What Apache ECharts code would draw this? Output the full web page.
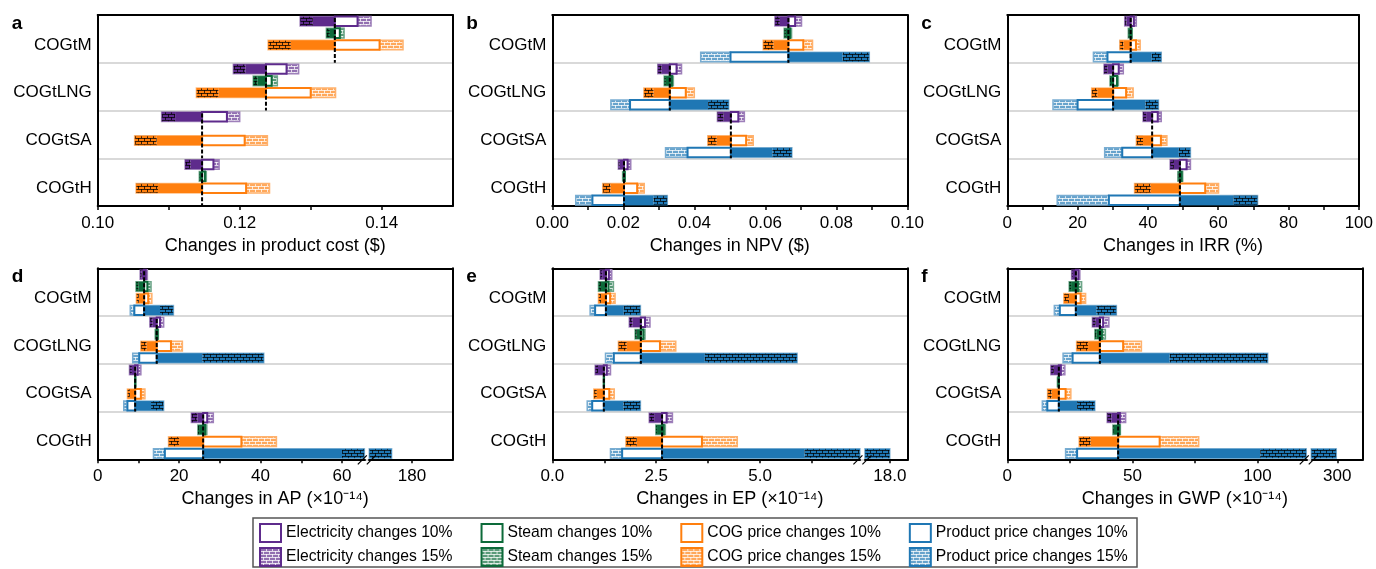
<!DOCTYPE html>
<html>
<head>
<meta charset="utf-8">
<script src="https://cdn.jsdelivr.net/npm/echarts@6.0.0/dist/echarts.min.js"></script>
<style>
  html, body { margin: 0; padding: 0; background: #fff; }
  #chart { width: 1376px; height: 569px; }
</style>
</head>
<body>
<div id="chart"></div>
<script>
// ---- data: each bar is [15% filled end, 10% filled end, 10% open end, 15% open end]
const categories = ['COGtM', 'COGtLNG', 'COGtSA', 'COGtH'];
const factors = ['Electricity', 'Steam', 'COG price', 'Product price'];

// a: product cost ($)
const costBase = [0.1334, 0.1237, 0.1147, 0.1147];
const costElec = [[0.1285, 0.1303, 0.1366, 0.1385], [0.1191, 0.1208, 0.1266, 0.1283], [0.1090, 0.1109, 0.1182, 0.1200], [0.1123, 0.1131, 0.1163, 0.1171]];
const costSteam = [[0.1322, 0.1327, 0.1341, 0.1347], [0.1219, 0.1225, 0.1245, 0.1253], null, [0.1143, 0.1144, 0.1151, 0.1153]];
const costCog = [[0.1240, 0.1272, 0.1397, 0.1430], [0.1139, 0.1170, 0.1300, 0.1335], [0.1052, 0.1083, 0.1207, 0.1239], [0.1054, 0.1085, 0.1209, 0.1242]];
const costProduct = null;
const costTicks = [0.10, 0.11, 0.12, 0.13, 0.14];
const costLabels = [0.10, 0.12, 0.14];

// b: NPV ($)
const npvBase = [0.0665, 0.0331, 0.0503, 0.0202];
const npvElec = [[0.0627, 0.0641, 0.0684, 0.0702], [0.0297, 0.0308, 0.0350, 0.0364], [0.0465, 0.0482, 0.0524, 0.0541], [0.0186, 0.0190, 0.0212, 0.0221]];
const npvSteam = [[0.0653, 0.0658, 0.0670, 0.0674], [0.0315, 0.0320, 0.0337, 0.0341], null, [0.0198, 0.0199, 0.0204, 0.0205]];
const npvCog = [[0.0594, 0.0623, 0.0707, 0.0733], [0.0258, 0.0285, 0.0376, 0.0400], [0.0438, 0.0463, 0.0546, 0.0566], [0.0142, 0.0164, 0.0239, 0.0259]];
const npvProduct = [[0.0893, 0.0818, 0.0502, 0.0418], [0.0497, 0.0439, 0.0219, 0.0165], [0.0675, 0.0620, 0.0381, 0.0319], [0.0324, 0.0285, 0.0113, 0.0066]];
const npvTicks = [0, 0.01, 0.02, 0.03, 0.04, 0.05, 0.06, 0.07, 0.08, 0.09, 0.10];
const npvLabels = [0, 0.02, 0.04, 0.06, 0.08, 0.10];

// c: IRR (%)
const irrBase = [35.1, 30.1, 41.2, 49.1];
const irrElec = [[33.4, 33.9, 36.0, 36.7], [27.5, 28.5, 31.7, 33.0], [38.6, 39.5, 42.8, 43.8], [46.3, 47.4, 51.0, 52.1]];
const irrSteam = [[34.4, 34.6, 35.3, 35.5], [29.2, 29.5, 31.2, 31.6], null, [48.5, 48.7, 49.6, 49.9]];
const irrCog = [[32.0, 33.0, 36.6, 37.8], [24.0, 25.6, 33.8, 35.8], [36.7, 38.6, 43.7, 45.4], [36.2, 40.8, 56.3, 60.1]];
const irrProduct = [[43.8, 41.1, 28.5, 24.5], [43.0, 39.3, 20.0, 13.0], [52.1, 48.8, 32.7, 27.7], [71.2, 64.4, 28.9, 14.2]];
const irrTicks = [0, 10, 20, 30, 40, 50, 60, 70, 80, 90, 100];
const irrLabels = [0, 20, 40, 60, 80, 100];

// d: AP (x1e-14)
const apBase = [11.4, 14.5, 9.2, 25.9];
const apElec = [[10.4, 10.8, 11.8, 12.2], [12.8, 13.5, 15.3, 16.2], [7.8, 8.4, 9.8, 10.6], [23.0, 24.5, 26.9, 28.4]];
const apSteam = [[9.4, 10.0, 12.2, 13.1], [14.1, 14.2, 14.7, 14.9], [9.1, 9.15, 9.25, 9.3], [24.6, 24.9, 26.4, 26.8]];
const apCog = [[9.5, 10.1, 12.4, 13.3], [10.6, 12.0, 18.0, 20.8], [7.3, 7.9, 10.6, 11.6], [17.4, 20.0, 35.3, 43.9]];
const apProduct = [[18.6, 15.3, 9.0, 8.0], [40.8, 25.7, 10.2, 8.6], [16.2, 13.1, 7.3, 6.4], [175, 60.0, 16.5, 13.7]];
const apTicks = [0, 10, 20, 30, 40, 50, 60, 180];
const apLabels = [0, 20, 40, 60, 180];

// e: EP (x1e-14)
const epBase = [1.29, 2.13, 1.24, 2.64];
const epElec = [[1.15, 1.20, 1.36, 1.43], [1.85, 1.93, 2.23, 2.35], [1.03, 1.10, 1.31, 1.40], [2.33, 2.45, 2.75, 2.89]];
const epSteam = [[1.11, 1.17, 1.35, 1.47], [1.99, 2.03, 2.19, 2.23], [1.23, 1.235, 1.245, 1.25], [2.49, 2.52, 2.68, 2.72]];
const epCog = [[1.11, 1.17, 1.39, 1.51], [1.59, 1.79, 2.59, 2.97], [1.00, 1.07, 1.37, 1.49], [1.77, 2.03, 3.60, 4.45]];
const epProduct = [[2.12, 1.72, 1.03, 0.91], [5.89, 3.67, 1.48, 1.28], [2.12, 1.71, 0.96, 0.84], [18.0, 6.07, 1.68, 1.40]];
const epTicks = [0, 1.25, 2.5, 3.75, 5, 6.25, 18];
const epLabels = [0, 2.5, 5, 18];

// f: GWP (x1e-14)
const gwpBase = [27.4, 37.0, 20.6, 44.3];
const gwpElec = [[25.7, 26.2, 28.4, 29.0], [34.0, 35.3, 38.3, 40.6], [17.4, 18.6, 21.4, 23.0], [39.9, 41.6, 45.0, 47.3]];
const gwpSteam = [[24.7, 25.5, 28.2, 29.7], [35.0, 35.6, 37.8, 39.2], [20.0, 20.2, 20.5, 20.7], [42.2, 42.6, 44.8, 45.2]];
const gwpCog = [[22.6, 24.6, 29.3, 31.3], [27.7, 32.3, 46.3, 53.6], [16.1, 17.7, 23.3, 25.4], [28.7, 33.3, 60.9, 76.5]];
const gwpProduct = [[43.6, 35.6, 21.0, 18.8], [104.1, 64.9, 26.1, 22.3], [35.0, 27.9, 16.0, 14.0], [299.6, 101.1, 27.9, 23.3]];
const gwpTicks = [0, 25, 50, 75, 100, 300];
const gwpLabels = [0, 50, 100, 300];

const panels = [
  { letter: 'a', name: 'Changes in product cost ($)', base: costBase, rows: [costElec, costSteam, costCog, costProduct], min: 0.10, max: 0.15, ticks: costTicks, labels: costLabels, digits: 2 },
  { letter: 'b', name: 'Changes in NPV ($)', base: npvBase, rows: [npvElec, npvSteam, npvCog, npvProduct], min: 0, max: 0.10, ticks: npvTicks, labels: npvLabels, digits: 2 },
  { letter: 'c', name: 'Changes in IRR (%)', base: irrBase, rows: [irrElec, irrSteam, irrCog, irrProduct], min: 0, max: 100, ticks: irrTicks, labels: irrLabels, digits: 0 },
  { letter: 'd', name: 'Changes in AP (×10⁻¹⁴)', base: apBase, rows: [apElec, apSteam, apCog, apProduct], min: 0, max: 190, ticks: apTicks, labels: apLabels, digits: 0, brk: { start: 65.5, end: 169.5, gap: 1.2 } },
  { letter: 'e', name: 'Changes in EP (×10⁻¹⁴)', base: epBase, rows: [epElec, epSteam, epCog, epProduct], min: 0, max: 18.42, ticks: epTicks, labels: epLabels, digits: 1, brk: { start: 7.4, end: 17.4, gap: 0.12 } },
  { letter: 'f', name: 'Changes in GWP (×10⁻¹⁴)', base: gwpBase, rows: [gwpElec, gwpSteam, gwpCog, gwpProduct], min: 0, max: 310, ticks: gwpTicks, labels: gwpLabels, digits: 0, brk: { start: 119.5, end: 289.6, gap: 2 } },
];

// ---- styling
const FONT = 'Liberation Sans, Arial, Helvetica, sans-serif';
const baseColors = ['#5e2b8c', '#0d6b3a', '#ff7f0e', '#1f77b4'];
const gridLefts = [97.7, 552.3, 1007.3];
const gridTops = [15, 268.3];

function rgb(hex) {
  const n = parseInt(hex.slice(1), 16);
  return [(n >> 16) & 255, (n >> 8) & 255, n & 255];
}
function mix(hex, t) {
  const c = rgb(hex).map((v) => Math.round(v + (255 - v) * t));
  return `rgb(${c[0]},${c[1]},${c[2]})`;
}
function brick(fill, line) {
  const cv = document.createElement('canvas');
  cv.width = 6;
  cv.height = 6;
  const g = cv.getContext('2d');
  g.fillStyle = fill;
  g.fillRect(0, 0, 6, 6);
  g.fillStyle = line;
  g.fillRect(0, 0, 6, 1);
  g.fillRect(0, 3, 6, 1);
  g.fillRect(0, 0, 1, 3);
  g.fillRect(3, 3, 1, 3);
  return { image: cv, repeat: 'repeat' };
}
const palette = baseColors.map((hex) => {
  const [r, g, b] = rgb(hex);
  return {
    main: hex,
    halo: `rgba(${r},${g},${b},0.5)`,
    lightEdge: mix(hex, 0.4),
    dark: brick(hex, 'rgba(0,0,0,0.75)'),
    light: brick(mix(hex, 0.32), 'rgba(255,255,255,0.75)'),
  };
});

function barRenderer(brk) {
  return function (params, api) {
    const cat = api.value(4);
    const slot = api.value(5);
    const base = api.value(6);
    const band = api.size([0, 1])[1];
    const cy = api.coord([base, cat])[1];
    const h = band * 0.2;
    const y = cy - band / 2 + band * (0.13 + 0.25 * slot) - h / 2;
    const c = palette[slot];
    const children = [];
    const add = (v0, v1, style) => {
      const lo = Math.min(v0, v1), hi = Math.max(v0, v1);
      const parts = brk && lo < brk.start && hi > brk.end ? [[lo, brk.start], [brk.end, hi]] : [[lo, hi]];
      parts.forEach(([a, b]) => {
        const x0 = api.coord([a, cat])[0];
        const x1 = api.coord([b, cat])[0];
        children.push({ type: 'rect', shape: { x: x0, y: y, width: x1 - x0, height: h }, style: style });
      });
    };
    const f15 = api.value(0), f10 = api.value(1), o10 = api.value(2), o15 = api.value(3);
    add(base, f10, { fill: c.main });
    add(f10, f15, { fill: c.dark });
    add(base, f15, { fill: 'none', stroke: c.halo, lineWidth: 1.5 });
    add(o10, o15, { fill: c.light, stroke: c.lightEdge, lineWidth: 1.5 });
    add(base, o10, { fill: '#fff', stroke: c.main, lineWidth: 2 });
    return { type: 'group', children: children };
  };
}

function baseRenderer(params, api) {
  const cat = api.value(1);
  const p = api.coord([api.value(0), cat]);
  const band = api.size([0, 1])[1];
  return {
    type: 'line',
    shape: { x1: p[0], y1: p[1] - band / 2 + 3, x2: p[0], y2: p[1] + band / 2 },
    style: { stroke: '#000', lineWidth: 2, lineDash: [4, 2] },
  };
}

function breakRenderer(params, api) {
  const a = api.coord([api.value(0), 0])[0];
  const b = api.coord([api.value(1), 0])[0];
  const mid = (a + b) / 2;
  const bottom = params.coordSys.y + params.coordSys.height;
  return {
    type: 'group',
    children: [mid - 4.5, mid + 4.5].map((x) => ({
      type: 'line',
      shape: { x1: x - 4.5, y1: bottom + 5, x2: x + 4.5, y2: bottom - 4 },
      style: { stroke: '#000', lineWidth: 1.2 },
    })),
  };
}

const grids = [], xAxes = [], yAxes = [], series = [], titles = [];
const frameLine = { onZero: false, lineStyle: { color: '#000', width: 2 } };

panels.forEach((p, i) => {
  const left = gridLefts[i % 3];
  const top = gridTops[Math.floor(i / 3)];
  grids.push({ left: left, top: top, width: 355, height: 191 });
  titles.push({ text: p.letter, left: left - 86, top: top - 1, padding: 0, textStyle: { fontSize: 19, fontWeight: 'bold', color: '#000', fontFamily: FONT } });

  const xMain = {
    gridIndex: i, type: 'value', min: p.min, max: p.max, z: 1,
    axisLine: { show: true, ...frameLine },
    axisTick: { show: true, length: 4, customValues: p.ticks, lineStyle: { color: '#000', width: 1.5 } },
    axisLabel: { customValues: p.labels, formatter: (v) => v.toFixed(p.digits), fontSize: 17, color: '#000', margin: 9, fontFamily: FONT },
    splitLine: { show: false },
    name: p.name, nameLocation: 'middle', nameGap: 31,
    nameTextStyle: { fontSize: 18, color: '#000', fontFamily: FONT },
  };
  if (p.brk) {
    xMain.breaks = [{ start: p.brk.start, end: p.brk.end, gap: p.brk.gap }];
    xMain.breakArea = { show: false };
  }
  xAxes.push(xMain);
  xAxes.push({
    gridIndex: i, type: 'value', position: 'top', min: 0, max: 1, z: 1,
    axisLine: { show: true, ...frameLine }, axisTick: { show: false }, axisLabel: { show: false }, splitLine: { show: false },
  });
  yAxes.push({
    gridIndex: i, type: 'category', data: categories, inverse: true, z: 0,
    axisLine: { show: true, ...frameLine }, axisTick: { show: false },
    axisLabel: {
      margin: 6,
      formatter: (v) => '{c|' + v + '}',
      rich: { c: { fontSize: 17, color: '#000', fontFamily: FONT, padding: [12, 0, 0, 0] } },
    },
    splitLine: { show: true, lineStyle: { color: '#d9d9d9', width: 2 } },
  });
  yAxes.push({
    gridIndex: i, type: 'value', position: 'right', min: 0, max: 1, z: 1,
    axisLine: { show: true, ...frameLine }, axisTick: { show: false }, axisLabel: { show: false }, splitLine: { show: false },
  });

  const bars = [];
  p.rows.forEach((rows, slot) => {
    if (!rows) return;
    rows.forEach((r, cat) => {
      if (r) bars.push([r[0], r[1], r[2], r[3], cat, slot, p.base[cat]]);
    });
  });
  series.push({
    type: 'custom', name: 'bars-' + p.letter, xAxisIndex: 2 * i, yAxisIndex: 2 * i, z: 2,
    renderItem: barRenderer(p.brk), encode: { x: [0, 1, 2, 3, 6], y: 4 }, data: bars,
  });
  series.push({
    type: 'custom', name: 'base-' + p.letter, xAxisIndex: 2 * i, yAxisIndex: 2 * i, z: 3,
    renderItem: baseRenderer, encode: { x: 0, y: 1 }, data: p.base.map((v, cat) => [v, cat]),
  });
  if (p.brk) {
    series.push({
      type: 'custom', name: 'break-' + p.letter, xAxisIndex: 2 * i, yAxisIndex: 2 * i, z: 4,
      renderItem: breakRenderer, encode: { x: [0, 1], y: 2 }, data: [[p.brk.start, p.brk.end, 3]],
    });
  }
});

// dummy series so the legend has entries
const names10 = factors.map((f) => f + ' changes 10%');
const names15 = factors.map((f) => f + ' changes 15%');
names10.concat(names15).forEach((n) => {
  series.push({ type: 'bar', name: n, xAxisIndex: 0, yAxisIndex: 0, data: [] });
});

const legendBase = {
  left: 259, itemWidth: 21, itemHeight: 18, itemGap: 28, padding: 0, icon: 'rect', selectedMode: false,
  textStyle: { fontSize: 15.7, color: '#000', fontFamily: FONT },
};

const option = {
  animation: false,
  backgroundColor: '#fff',
  textStyle: { fontFamily: FONT },
  title: titles,
  grid: grids,
  xAxis: xAxes,
  yAxis: yAxes,
  legend: [
    { ...legendBase, top: 523, data: names10.map((n, i) => ({ name: n, itemStyle: { color: '#fff', borderColor: palette[i].main, borderWidth: 2 } })) },
    { ...legendBase, top: 547, data: names15.map((n, i) => ({ name: n, itemStyle: { color: palette[i].light, borderColor: palette[i].main, borderWidth: 2 } })) },
  ],
  graphic: [
    { type: 'rect', shape: { x: 253, y: 518, width: 884, height: 49 }, style: { fill: 'none', stroke: '#555', lineWidth: 1.5 } },
  ],
  series: series,
};

const chart = echarts.init(document.getElementById('chart'));
chart.setOption(option);
</script>
</body>
</html>
